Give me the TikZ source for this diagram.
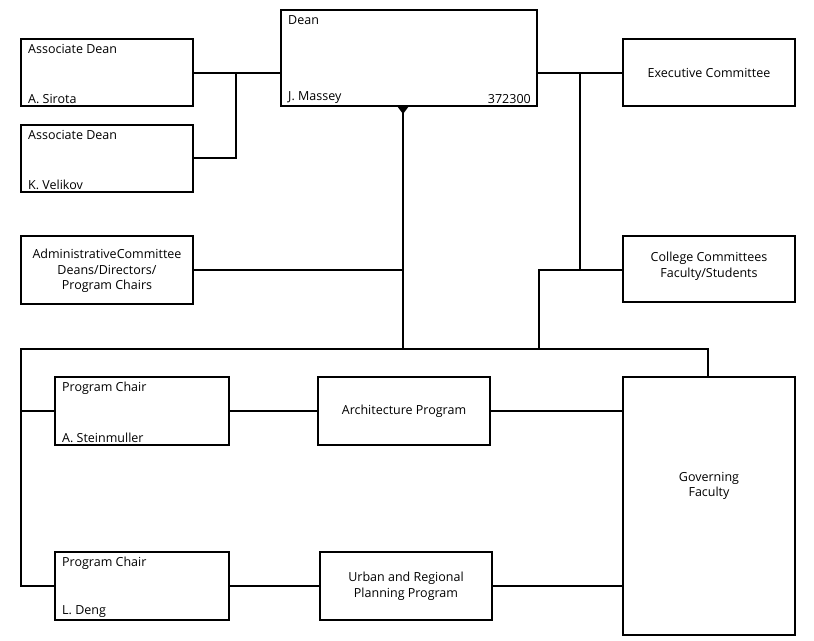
\documentclass[tikz,border=0pt]{standalone}
\usepackage{fontspec}
\setmainfont{Open Sans}
\begin{document}
\begin{tikzpicture}[x=1pt,y=-1pt,
  box/.style={draw,line width=1.3pt,fill=white},
  ln/.style={line width=1.3pt},
  lbl/.style={font=\fontsize{12.5}{15.5}\selectfont,inner sep=0pt},
  ctr/.style={font=\fontsize{12.5}{15.5}\selectfont,align=center,inner sep=0pt}]
\useasboundingbox (0,0) rectangle (814,640);
% boxes
\draw[box] (281,10) rectangle (537,106);
\coordinate (deanL) at (281,73); \coordinate (deanR) at (537,73); \coordinate (deanB) at (403,106);
\node[lbl,anchor=north west] (dean) at (288,15) {Dean};
\node[lbl,anchor=south west] (massey) at (288,104) {J. Massey};
\node[lbl,anchor=south east] (num) at (531,104) {372300};
\draw[box] (21,39) rectangle (193,106);
\node[lbl,anchor=north west] (ad1) at (28,44) {Associate Dean};
\node[lbl,anchor=south west] (ad1n) at (28,104) {A. Sirota};
\draw[box] (21,125) rectangle (193,192);
\node[lbl,anchor=north west] (ad2) at (28,130) {Associate Dean};
\node[lbl,anchor=south west] (ad2n) at (28,190) {K. Velikov};
\draw[box] (623,39) rectangle (795,106);
\node[ctr] (exec) at (709,73) {Executive Committee};
\draw[box] (21,236) rectangle (193,304);
\node[ctr] (adm) at (107,271) {AdministrativeCommittee\\Deans/Directors/\\Program Chairs};
\draw[box] (623,236) rectangle (795,302);
\node[ctr] (coll) at (709,266) {College Committees\\Faculty/Students};
\draw[box] (55,377) rectangle (229,445);
\node[lbl,anchor=north west] (pc1) at (62,382) {Program Chair};
\node[lbl,anchor=south west] (pc1n) at (62,443) {A. Steinmuller};
\draw[box] (318,377) rectangle (490,445);
\node[ctr] (arch) at (404,411) {Architecture Program};
\draw[box] (623,377) rectangle (795,635);
\node[ctr] (gov) at (709,486) {Governing\\Faculty};
\draw[box] (55,552) rectangle (229,620);
\node[lbl,anchor=north west] (pc2) at (62,557) {Program Chair};
\node[lbl,anchor=south west] (pc2n) at (62,618) {L. Deng};
\draw[box] (320,552) rectangle (492,620);
\node[ctr] (urb) at (406,586) {Urban and Regional\\Planning Program};
% connectors
\draw[ln] (deanL) -- (193,73);
\draw[ln] (236,73) -- (236,158) -- (193,158);
\draw[ln] (deanR) -- (623,73);
\draw[ln] (580,73) -- (580,270) -- (623,270);
\draw[ln] (539,349) -- (539,270) -- (580,270);
\draw[ln] (deanB) -- (403,349);
\fill (397,106) -- (409,106) -- (403,114) -- cycle;
\draw[ln] (193,270) -- (403,270);
\draw[ln] (708,377) -- (708,349) -- (21,349) -- (21,586) -- (55,586);
\draw[ln] (21,411) -- (55,411);
\draw[ln] (229,411) -- (318,411);
\draw[ln] (490,411) -- (623,411);
\draw[ln] (229,586) -- (320,586);
\draw[ln] (492,586) -- (623,586);
\end{tikzpicture}
\end{document}
